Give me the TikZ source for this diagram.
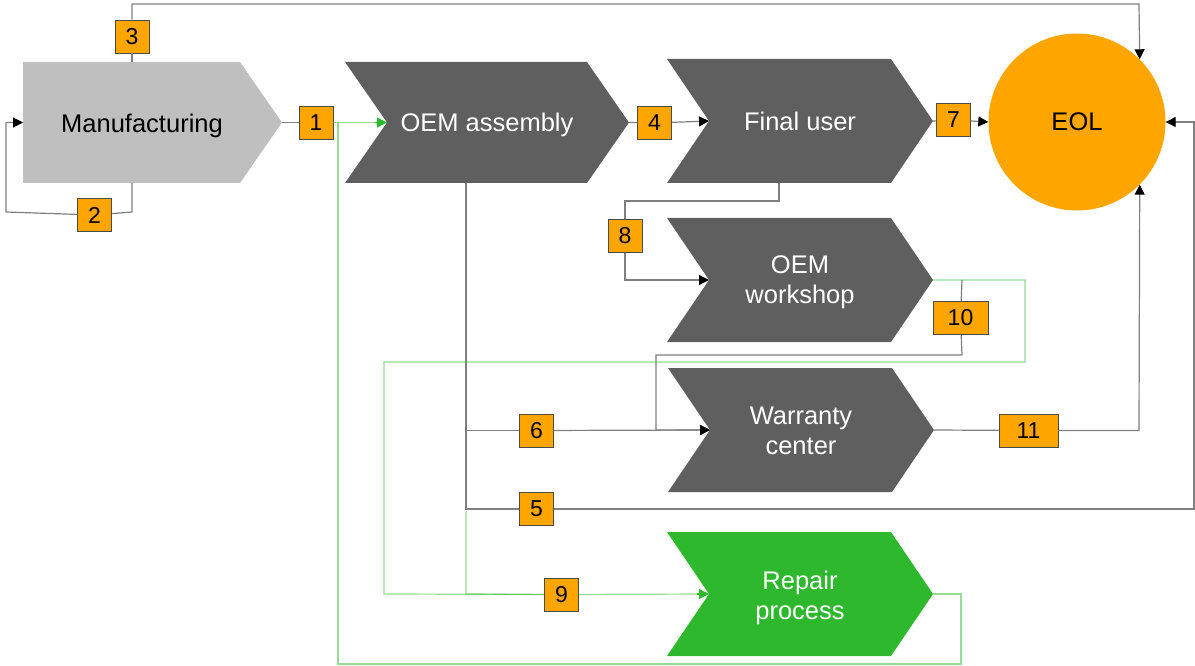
\documentclass[tikz,border=0pt]{standalone}
\usepackage{fontspec}
\setmainfont{Liberation Sans}
\usetikzlibrary{arrows.meta}

\definecolor{stagegray}{HTML}{5F5F5F}
\definecolor{mfggray}{HTML}{BFBFBF}
\definecolor{eolorange}{HTML}{FFA500}
\definecolor{repgreen}{HTML}{2EB82E}
\definecolor{linegray}{HTML}{7F7F7F}
\definecolor{boxedge}{HTML}{4A4A4A}

% chevron stage: name, left x, centre y, length to tip, half height, fill colour
\newcommand\chevstage[6]{%
  \fill[#6] (#2,#3-#5) -- (#2+#4-42,#3-#5) -- (#2+#4,#3) -- (#2+#4-42,#3+#5)
    -- (#2,#3+#5) -- (#2+42,#3) -- cycle;
  \coordinate (#1-in) at (#2+42,#3);
  \coordinate (#1-out) at (#2+#4,#3);
}

\begin{document}
\begin{tikzpicture}[x=1pt,y=-1pt,
  stagetext/.style={font=\fontsize{25.5}{30}\selectfont, align=center, inner sep=0pt},
  numbox/.style={draw=boxedge, fill=eolorange, line width=0.8pt, inner sep=0pt,
    minimum width=34pt, minimum height=33pt, font=\fontsize{23}{23}\selectfont},
  flow/.style={draw=linegray, line width=1.2pt},
  greenflow/.style={draw=repgreen, draw opacity=0.5, line width=1.2pt},
  arrowhd/.style={-{Triangle[length=10pt,width=10pt,color=black]}},
  greenhd/.style={draw=repgreen, line width=1.2pt, -{Triangle[length=10pt,width=10pt,color=repgreen]}}]

\useasboundingbox (0,0) rectangle (1195,666);

% ---- stages ----
\fill[mfggray] (23,62) -- (240,62) -- (282,122.5) -- (240,183) -- (23,183) -- cycle;
\coordinate (mfg-out) at (282,122.5);
\coordinate (mfg-top) at (132,62);
\coordinate (mfg-bot) at (132,183);
\coordinate (mfg-left) at (23,122.5);

\chevstage{oem}{345}{122.5}{284}{60.5}{stagegray}
\chevstage{fu}{667}{121}{266}{62}{stagegray}
\chevstage{ws}{667}{280}{266}{62}{stagegray}
\chevstage{war}{668}{430}{266}{62}{stagegray}
\chevstage{rep}{667}{594}{266}{62}{repgreen}

\node[stagetext, anchor=base, text=black] (mfg) at (142,133) {Manufacturing};
\node[stagetext, anchor=base, text=white] (oem) at (487,132) {OEM assembly};
\node[stagetext, anchor=base, text=white] (fu) at (800,131) {Final user};
\node[stagetext, text=white] (ws) at (800,282.5) {OEM\\workshop};
\node[stagetext, text=white] (war) at (801,430.5) {Warranty\\center};
\node[stagetext, text=white] (rep) at (800,597.5) {Repair\\process};

\node[circle, fill=eolorange, minimum size=177pt, inner sep=0pt,
  font=\fontsize{25.5}{30}\selectfont] (eol) at (1077,122) {EOL};

% ---- numbered flows ----
\node[numbox] (n1) at (316,122.5) {1};
\node[numbox] (n2) at (94.5,215) {2};
\node[numbox] (n3) at (132,36.5) {3};
\node[numbox] (n4) at (654.5,123) {4};
\node[numbox] (n5) at (536.5,509) {5};
\node[numbox] (n6) at (536.5,430.5) {6};
\node[numbox] (n7) at (953.5,120) {7};
\node[numbox] (n8) at (625,236) {8};
\node[numbox] (n9) at (561.5,594.5) {9};
\node[numbox, minimum width=55pt] (n10) at (960.5,318) {10};
\node[numbox, minimum width=59pt] (n11) at (1028.5,430.5) {11};

% junction and corner points
\coordinate (j3) at (1139,4);
\coordinate (j2a) at (132,212);
\coordinate (j2b) at (6,212);
\coordinate (j2c) at (6,122.5);
\coordinate (fu-bot) at (779,183);
\coordinate (j8a) at (779,201);
\coordinate (j8b) at (625,201);
\coordinate (j8c) at (625,280);
\coordinate (oem-bot) at (466,183);
\coordinate (j6) at (466,430.5);
\coordinate (j5) at (466,509);
\coordinate (j5r) at (1194,509);
\coordinate (j5u) at (1194,122);
\coordinate (ws-tap) at (962,280);
\coordinate (j10a) at (962,355);
\coordinate (j10b) at (656,355);
\coordinate (j10c) at (656,430);
\coordinate (j11) at (1139,430.5);
\coordinate (jg1) at (338,122.5);
\coordinate (jg1b) at (338,664);
\coordinate (jg2) at (961,594);
\coordinate (jg2b) at (961,664);
\coordinate (jw1) at (1025,280);
\coordinate (jw2) at (1025,362);
\coordinate (jw3) at (384,362);
\coordinate (jw4) at (384,594);
\coordinate (j9) at (466,594);
\coordinate (j9top) at (466,511);

% gray flows
\draw[flow] (mfg-top) -- (n3);
\draw[flow, arrowhd] (n3) |- (j3) -- (eol.45.5);
\draw[flow] (mfg-bot) -- (j2a) -- (n2);
\draw[flow, arrowhd] (n2) -- (j2b) -- (j2c) -- (mfg-left);
\draw[flow] (mfg-out) -- (n1);
\draw[flow] (oem-out) -- (n4);
\draw[flow, arrowhd] (n4) -- (fu-in);
\draw[flow] (fu-out) -- (n7);
\draw[flow, arrowhd] (n7) -- (eol.west);
\draw[flow] (fu-bot) -- (j8a) -- (j8b) -- (n8);
\draw[flow, arrowhd] (n8) -- (j8c) -- (ws-in);
\draw[flow] (oem-bot) -- (j6) -- (n6);
\draw[flow, arrowhd] (n6) -- (war-in);
\draw[flow] (j6) -- (j5) -- (n5);
\draw[flow, arrowhd] (n5) -- (j5r) -- (j5u) -- (eol.east);
\draw[flow] (ws-tap) -- (n10);
\draw[flow, arrowhd] (n10) -- (j10a) -- (j10b) -- (j10c) -- (war-in);
\draw[flow] (war-out) -- (n11);
\draw[flow, arrowhd] (n11) -- (j11) -- (eol.-45.5);

% green repair flows
\draw[greenflow] (n1) -- (oem-in);
\draw[greenhd] (oem-in) ++(-12,0) -- (oem-in);
\draw[greenflow] (rep-out) -- (jg2) -- (jg2b) -- (jg1b) -- (jg1);
\draw[greenflow] (ws-out) -- (jw1) -- (jw2) -- (jw3) -- (jw4) -- (n9);
\draw[greenflow] (j9top) -- (j9) -- (n9);
\draw[greenflow] (n9) -- (rep-in);
\draw[greenhd] (rep-in) ++(-12,0) -- (rep-in);

\end{tikzpicture}
\end{document}
